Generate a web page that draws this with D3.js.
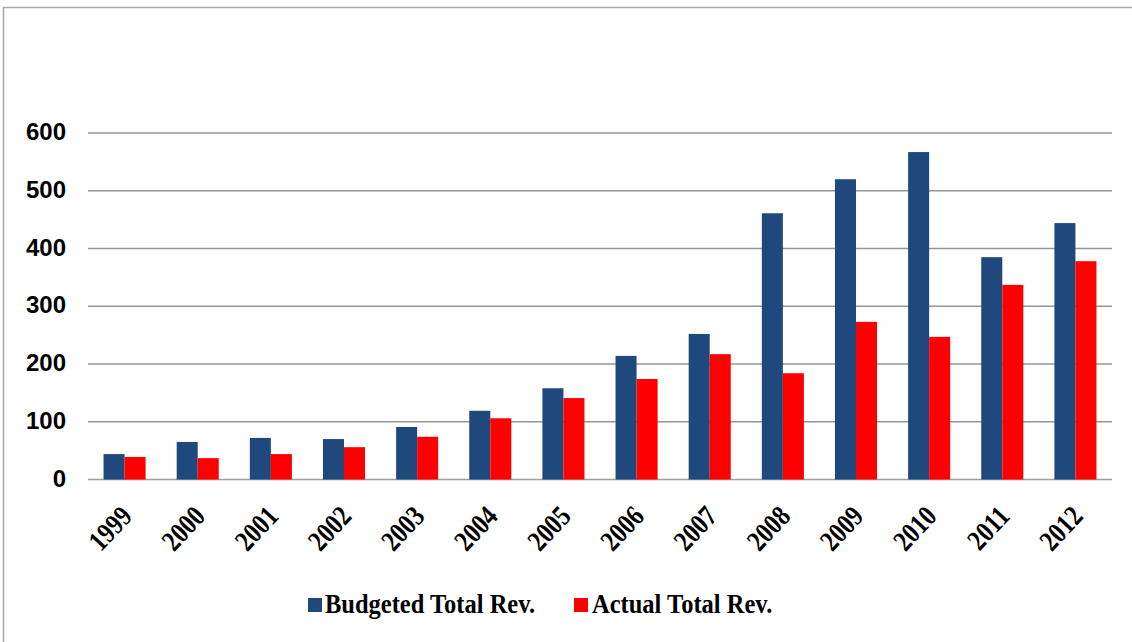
<!DOCTYPE html>
<html>
<head>
<meta charset="utf-8">
<script src="https://cdn.jsdelivr.net/npm/d3@7"></script>
<style>
  html, body { margin: 0; padding: 0; background: #fff; }
  svg { display: block; }
</style>
</head>
<body>
<svg id="chart" width="1132" height="642"></svg>
<script>
// Revenue by year (budgeted vs. actual)
const years = ["1999","2000","2001","2002","2003","2004","2005","2006","2007","2008","2009","2010","2011","2012"];
const budgeted = [44, 65, 72, 70, 91, 119, 158, 214, 252, 461, 520, 567, 385, 444];
const actual   = [39, 37, 44, 56, 74, 106, 141, 174, 217, 184, 273, 247, 337, 378];
const seriesNames = ["Budgeted Total Rev.", "Actual Total Rev."];
const seriesColors = ["#1F497D", "#FF0000"];
const yTicks = [0, 100, 200, 300, 400, 500, 600];

const svg = d3.select("#chart");

// outer frame
svg.append("rect")
  .attr("x", 3.5).attr("y", 7.5)
  .attr("width", 1200).attr("height", 700)
  .attr("fill", "none").attr("stroke", "#a6a6a6").attr("stroke-width", 1.5);

const plot = { left: 88, right: 1112, top: 133, bottom: 479.5 };

const x = d3.scaleBand().domain(years).range([plot.left, plot.right]).paddingInner(0.425).paddingOuter(0.2125);
const sub = d3.scaleBand().domain([0, 1]).range([0, x.bandwidth()]);
const y = d3.scaleLinear().domain([0, 600]).range([plot.bottom, plot.top]);

// gridlines
svg.append("g")
  .selectAll("line").data(yTicks).join("line")
  .attr("x1", plot.left).attr("x2", plot.right)
  .attr("y1", d => y(d)).attr("y2", d => y(d))
  .attr("stroke", d => d === 0 ? "#a0a0a0" : "#969696")
  .attr("stroke-width", 1.6);

// y axis labels
const yAxis = d3.axisLeft(y).tickValues(yTicks).tickSize(0).tickPadding(0);
const yg = svg.append("g").attr("transform", `translate(${plot.left - 22},0)`).call(yAxis);
yg.select(".domain").remove();
yg.selectAll("text")
  .attr("font-family", "'Liberation Sans', Arial, sans-serif")
  .attr("font-weight", "bold").attr("font-size", 24).attr("fill", "#000")
  .attr("dy", "0.28em");

// bars
const data = years.map((yr, i) => ({ yr, vals: [budgeted[i], actual[i]] }));
const groups = svg.append("g").selectAll("g").data(data).join("g")
  .attr("transform", d => `translate(${x(d.yr)},0)`);
groups.selectAll("rect").data(d => d.vals.map((v, k) => ({ v, k }))).join("rect")
  .attr("x", d => sub(d.k))
  .attr("width", sub.bandwidth())
  .attr("y", d => y(d.v))
  .attr("height", d => y(0) - y(d.v))
  .attr("fill", d => seriesColors[d.k]);

// x axis labels, rotated
const xAxis = d3.axisBottom(x).tickSize(0).tickPadding(0);
const xg = svg.append("g").attr("transform", `translate(0,${plot.bottom})`).call(xAxis);
xg.select(".domain").remove();
xg.selectAll("text")
  .attr("font-family", "'Liberation Serif', 'Times New Roman', serif")
  .attr("font-weight", "bold").attr("font-size", 24).attr("fill", "#000")
  .attr("text-anchor", "end")
  .attr("y", 0)
  .attr("dy", 0)
  .attr("transform", "translate(9,38) rotate(-47) scale(1,1.2)");

// legend
const legendItems = [{ x: 308, tx: 325 }, { x: 574, tx: 592 }];
const lg = svg.append("g");
legendItems.forEach((it, i) => {
  lg.append("rect").attr("x", it.x).attr("y", 598).attr("width", 14).attr("height", 14)
    .attr("fill", seriesColors[i]);
  lg.append("text")
    .attr("transform", `translate(${it.tx},612.5) scale(1,1.15)`)
    .attr("font-family", "'Liberation Serif', 'Times New Roman', serif")
    .attr("font-weight", "bold").attr("font-size", 24.5).attr("fill", "#000")
    .text(seriesNames[i]);
});
</script>
</body>
</html>
